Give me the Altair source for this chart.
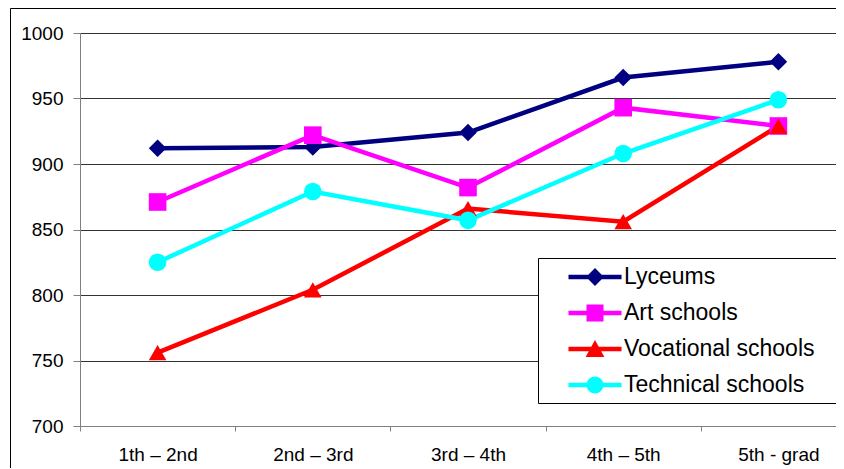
import altair as alt
import pandas as pd

categories = ["1th – 2nd", "2nd – 3rd", "3rd – 4th", "4th – 5th", "5th - grad"]
series_names = ["Lyceums", "Art schools", "Vocational schools", "Technical schools"]
lyceums = [912, 913, 924, 966, 978]
art_schools = [871, 922, 882, 943, 929]
vocational = [756, 804, 866, 856, 929]
technical = [825, 879, 857, 908, 949]
colors = ["#000080", "#FF00FF", "#FF0000", "#00FFFF"]
shapes = ["diamond", "square", "triangle-up", "circle"]
y_ticks = [700, 750, 800, 850, 900, 950, 1000]

bar = "M-3.12,-0.26H3.12V0.26H-3.12Z"
legend_paths = [
    bar + "M0,-1.05L1.05,0L0,1.05L-1.05,0Z",
    bar + "M-1,-1H1V1H-1Z",
    bar + "M0,-1.05L1.1,0.95L-1.1,0.95Z",
    bar + "M-1,0A1,1 0 1,1 1,0A1,1 0 1,1 -1,0Z",
]

rows = []
for name, vals in zip(series_names, [lyceums, art_schools, vocational, technical]):
    for i, (c, v) in enumerate(zip(categories, vals)):
        rows.append({"series": name, "period": c, "idx": i, "value": v})
df = pd.DataFrame(rows)

FONT = "Liberation Sans"

x_enc = alt.X(
    "period:N",
    sort=categories,
    scale=alt.Scale(type="band", paddingInner=0, paddingOuter=0),
    axis=alt.Axis(
        title=None, labelAngle=0, tickBand="extent", tickSize=5, labelPadding=14,
        labelFont=FONT, labelFontSize=19, labelColor="black",
        domainColor="#808080", tickColor="#808080", grid=False,
    ),
)
y_enc = alt.Y(
    "value:Q",
    scale=alt.Scale(domain=[700, 1000], nice=False, zero=False),
    axis=alt.Axis(
        title=None, values=y_ticks, format="d", tickSize=7, labelPadding=10,
        labelFont=FONT, labelFontSize=19, labelColor="black",
        domainColor="#808080", tickColor="#808080",
        grid=True, gridColor="#333333", gridWidth=1,
    ),
)
color_scale = alt.Scale(domain=series_names, range=colors)

base = alt.Chart(df)

lines = base.mark_line(strokeWidth=4.5).encode(
    x=x_enc, y=y_enc,
    color=alt.Color("series:N", scale=color_scale, legend=None),
    order=alt.Order("idx:Q"),
)

points = base.mark_point(filled=True, size=310, opacity=1).encode(
    x=x_enc, y=y_enc,
    color=alt.Color("series:N", scale=color_scale, legend=None),
    shape=alt.Shape("series:N", scale=alt.Scale(domain=series_names, range=shapes), legend=None),
)

legend_props = dict(
    title=None, orient="none", legendX=458, legendY=225, padding=7.5,
    symbolSize=289, symbolOffset=38, symbolStrokeWidth=0, symbolOpacity=1,
    labelOffset=17.5, labelFont=FONT, labelFontSize=23, labelColor="black",
    labelLimit=600, rowPadding=12,
)

legend_layer = base.transform_filter("false").mark_point(filled=True, opacity=1).encode(
    color=alt.Color("series:N", scale=color_scale, legend=alt.Legend(**legend_props)),
    shape=alt.Shape("series:N", scale=alt.Scale(domain=series_names, range=legend_paths),
                    legend=alt.Legend(**legend_props)),
)

one_row = pd.DataFrame({"a": [0]})
frame_left = alt.Chart(one_row).mark_rule(color="black", strokeWidth=1, clip=False).encode(
    x=alt.value(-69.5), y=alt.value(-24.5), y2=alt.value(500)
)
frame_top = alt.Chart(one_row).mark_rule(color="black", strokeWidth=1, clip=False).encode(
    x=alt.value(-69.5), x2=alt.value(1000), y=alt.value(-24.5)
)
legend_box = alt.Chart(one_row).mark_rect(
    fill="white", stroke="black", strokeWidth=1, clip=False
).encode(
    x=alt.value(458.5), x2=alt.value(1000), y=alt.value(225.5), y2=alt.value(370.5)
)

chart = alt.layer(frame_left, frame_top, lines, points, legend_box, legend_layer).resolve_scale(
    color="independent", shape="independent"
).properties(
    width=776, height=393,
    autosize=alt.AutoSizeParams(type="none"),
    padding={"left": 72, "top": 25, "right": -20, "bottom": 42},
).configure_view(stroke="transparent", strokeWidth=0)

chart.save("out.html", embed_options={"renderer": "svg", "actions": False})
